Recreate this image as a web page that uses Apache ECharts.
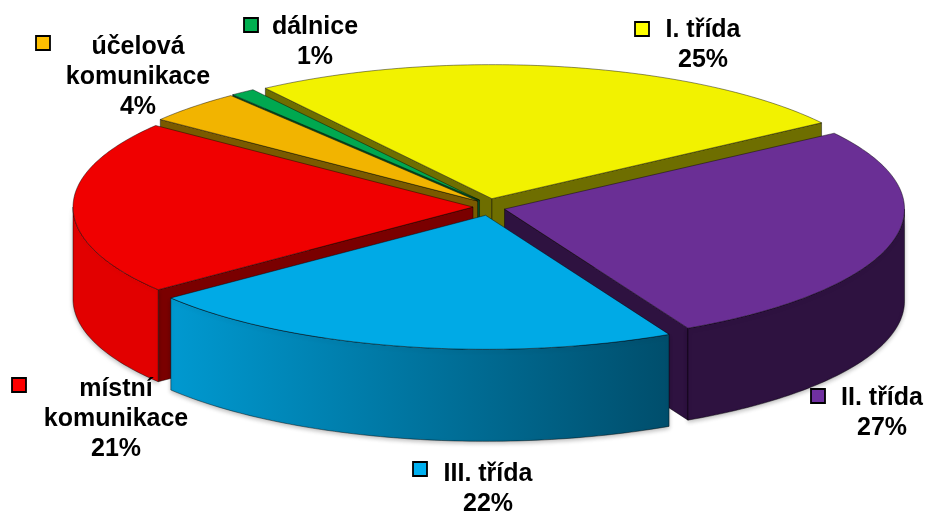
<!DOCTYPE html>
<html><head><meta charset="utf-8">
<script src="https://cdn.jsdelivr.net/npm/echarts@6/dist/echarts.min.js"></script>
<style>html,body{margin:0;padding:0;background:#fff}#c{width:930px;height:516px}</style>
</head><body><div id="c"></div>
<script>
// ---- data ----
const categories = ['I. třída', 'II. třída', 'III. třída', 'místní\nkomunikace', 'účelová\nkomunikace', 'dálnice'];
const values = [25, 27, 22, 21, 4, 1];

// ---- styles ----
const topColors  = ['#F2F200', '#6A2F95', '#00AAE6', '#F00000', '#F2B400', '#00A850'];
const sideColors = ['#6E6E00', '#2E1240', '#005A78', '#7A0000', '#7A5A00', '#005028'];
const wallColors = ['#707000', '#2E1240', ['#0099D0', '#004E6C'], '#E20000', '#C89400', '#008040'];
const keyColors  = ['#FFFF00', '#7030A0', '#00B0F0', '#FF0000', '#FFC000', '#00B050'];
// label anchors: text centre x, first-line centre y, key square centre
const labelLayout = [
  {x: 703, y: 30, kx: 642, ky: 29},
  {x: 882, y: 398, kx: 818, ky: 396},
  {x: 488, y: 474, kx: 420, ky: 469},
  {x: 116, y: 389, kx: 19, ky: 385},
  {x: 138, y: 47, kx: 43, ky: 43},
  {x: 315, y: 27, kx: 251, ky: 25}
];
const G = {cx: 489, cy: 207, rx: 400, ry: 134, h: 92, ex: 16, ey: 8.5, start: 124.5};

const total = values.reduce((a, b) => a + b, 0);
const rad = d => d * Math.PI / 180;

function sliceGeom(i) {
  let a = G.start;
  for (let k = 0; k < i; k++) a -= values[k] / total * 360;
  const span = values[i] / total * 360;
  const a1 = a, a2 = a - span, mid = a - span / 2;
  const off = [G.ex * Math.cos(rad(mid)), -G.ey * Math.sin(rad(mid))];
  return {a1, a2, mid, off};
}
function P(th, z, off) {
  return [G.cx + off[0] + G.rx * Math.cos(rad(th)), G.cy + off[1] - G.ry * Math.sin(rad(th)) + z];
}
function arc(from, to, z, off) {
  const n = Math.max(2, Math.ceil(Math.abs(to - from) / 1) + 1);
  const pts = [];
  for (let j = 0; j < n; j++) pts.push(P(from + (to - from) * j / (n - 1), z, off));
  return pts;
}
const edge = {stroke: 'rgba(0,0,0,0.55)', lineWidth: 0.8, lineJoin: 'round'};

function renderItem(params, api) {
  const i = params.dataIndex;
  const g = sliceGeom(i);
  const off = g.off;
  const C0 = [G.cx + off[0], G.cy + off[1]];
  const C1 = [C0[0], C0[1] + G.h];
  const children = [];
  // radial faces
  const faces = [];
  if (Math.cos(rad(g.a1)) < 0) faces.push(g.a1);
  if (Math.cos(rad(g.a2)) > 0) faces.push(g.a2);
  faces.forEach(a => {
    const r0 = P(a, 0, off), r1 = P(a, G.h, off);
    children.push({
      type: 'polygon', z2: 10 + Math.round(r0[1] / 10),
      shape: {points: [C0, r0, r1, C1]},
      style: Object.assign({fill: sideColors[i]}, edge)
    });
  });
  // outer wall, front half
  for (let k = -1; k <= 1; k++) {
    const lo = Math.max(g.a2, -180 + 360 * k), hi = Math.min(g.a1, 360 * k);
    if (hi > lo) {
      const pts = arc(lo, hi, 0, off).concat(arc(hi, lo, G.h, off));
      const wc = wallColors[i];
      const fill = Array.isArray(wc)
        ? new echarts.graphic.LinearGradient(0, 0, 1, 0, [{offset: 0, color: wc[0]}, {offset: 1, color: wc[1]}])
        : wc;
      children.push({
        type: 'polygon', z2: 100,
        shape: {points: pts},
        style: Object.assign({fill: fill, shadowColor: 'rgba(0,0,0,0.25)', shadowBlur: 4, shadowOffsetY: 2}, edge)
      });
    }
  }
  // top face
  children.push({
    type: 'polygon', z2: 200,
    shape: {points: [C0].concat(arc(g.a1, g.a2, 0, off))},
    style: Object.assign({fill: topColors[i]}, edge)
  });
  // label
  const L = labelLayout[i];
  const txt = categories[i] + '\n' + api.value(0) + '%';
  const nLines = txt.split('\n').length;
  children.push({
    type: 'text', z2: 500,
    style: {
      text: txt, x: L.x, y: L.y + (nLines - 1) * 15,
      align: 'center', verticalAlign: 'middle',
      font: 'bold 25px "Liberation Sans", Arial, sans-serif',
      lineHeight: 30, fill: '#000'
    }
  });
  children.push({
    type: 'rect', z2: 500,
    shape: {x: L.kx - 7, y: L.ky - 7, width: 14, height: 14},
    style: {fill: keyColors[i], stroke: '#000', lineWidth: 1.8}
  });
  return {type: 'group', children};
}

const chart = echarts.init(document.getElementById('c'), null, {renderer: 'canvas'});
chart.setOption({
  backgroundColor: '#fff',
  animation: false,
  series: [{
    type: 'custom',
    coordinateSystem: 'none',
    silent: true,
    renderItem: renderItem,
    data: values.map((v, i) => ({value: v, name: categories[i]}))
  }]
});
</script></body></html>
